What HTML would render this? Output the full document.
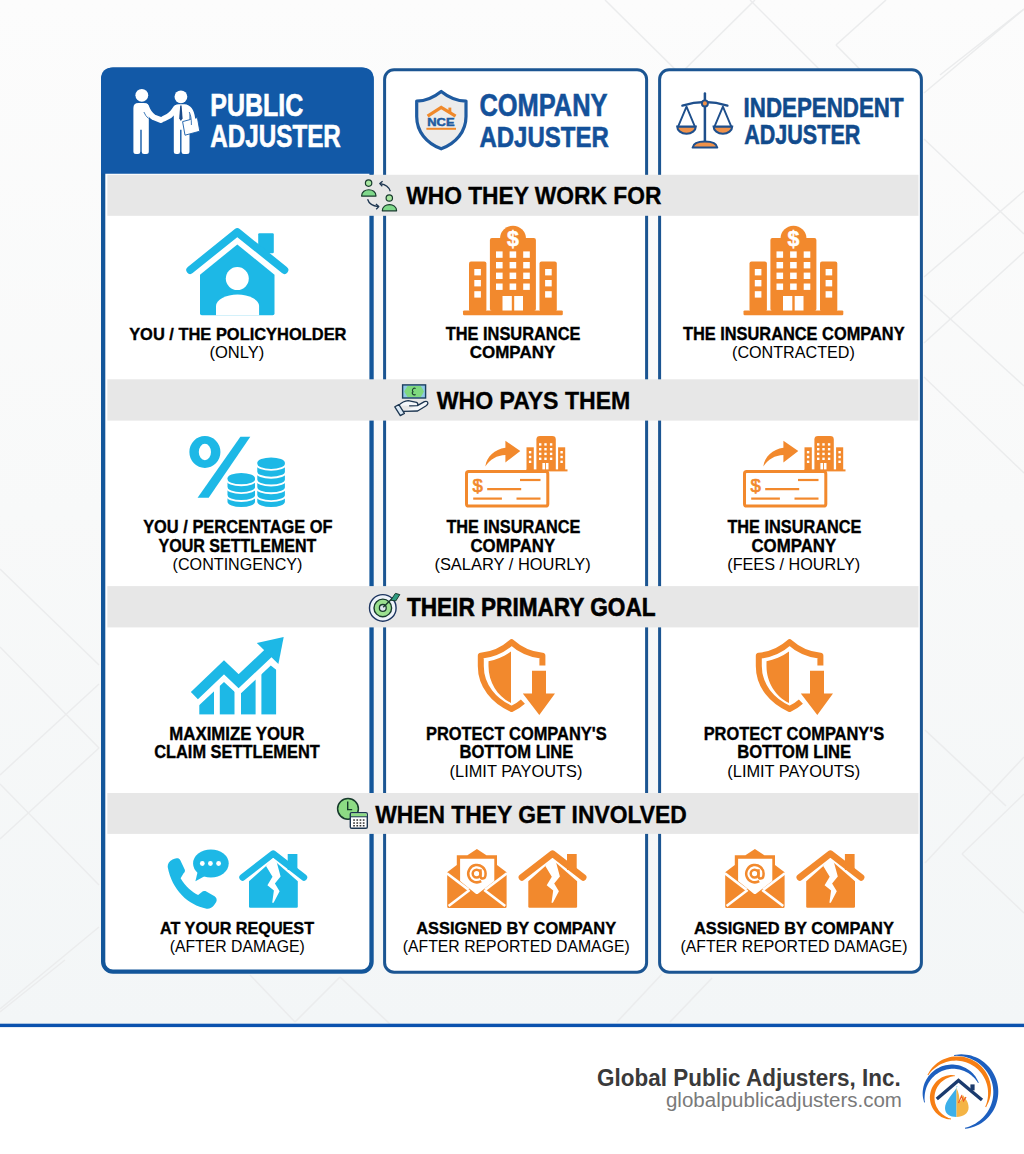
<!DOCTYPE html>
<html><head><meta charset="utf-8"><style>
html,body{margin:0;padding:0;}
body{width:1024px;height:1154px;overflow:hidden;position:relative;background:#ffffff;font-family:"Liberation Sans",sans-serif;}
svg{position:absolute;left:0;top:0;display:block}
text{font-family:"Liberation Sans",sans-serif;}
</style></head><body>
<svg width="1024" height="1154" viewBox="0 0 1024 1154">
<defs><linearGradient id="bgg" x1="0" y1="0" x2="0" y2="1"><stop offset="0" stop-color="#fcfcfc"/><stop offset="0.5" stop-color="#f8f9f9"/><stop offset="1" stop-color="#f3f6f7"/></linearGradient></defs>
<rect x="0" y="0" width="1024" height="1025" fill="url(#bgg)"/>
<line x1="605" y1="0" x2="690" y2="84" stroke="#ebeced" stroke-width="1.5"/>
<line x1="670" y1="84" x2="755" y2="0" stroke="#ebeced" stroke-width="1.5"/>
<line x1="750" y1="0" x2="830" y2="80" stroke="#ebeced" stroke-width="1.5"/>
<line x1="836" y1="45" x2="886" y2="0" stroke="#ebeced" stroke-width="1.5"/>
<line x1="836" y1="45" x2="900" y2="110" stroke="#ebeced" stroke-width="1.5"/>
<line x1="940" y1="75" x2="1024" y2="9" stroke="#ebeced" stroke-width="1.5"/>
<line x1="924" y1="93" x2="1024" y2="9" stroke="#ebeced" stroke-width="1.5"/>
<line x1="924" y1="139" x2="1024" y2="234" stroke="#ebeced" stroke-width="1.5"/>
<line x1="924" y1="277" x2="1024" y2="191" stroke="#ebeced" stroke-width="1.5"/>
<line x1="924" y1="343" x2="1024" y2="252" stroke="#ebeced" stroke-width="1.5"/>
<line x1="924" y1="295" x2="1024" y2="386" stroke="#ebeced" stroke-width="1.5"/>
<line x1="924" y1="377" x2="1024" y2="473" stroke="#ebeced" stroke-width="1.5"/>
<line x1="925" y1="730" x2="1006" y2="806" stroke="#ebeced" stroke-width="1.5"/>
<line x1="925" y1="863" x2="1024" y2="757" stroke="#ebeced" stroke-width="1.5"/>
<line x1="962" y1="854" x2="1024" y2="794" stroke="#ebeced" stroke-width="1.5"/>
<line x1="962" y1="854" x2="1024" y2="913" stroke="#ebeced" stroke-width="1.5"/>
<line x1="0" y1="569" x2="99" y2="665" stroke="#ebeced" stroke-width="1.5"/>
<line x1="0" y1="647" x2="99" y2="748" stroke="#ebeced" stroke-width="1.5"/>
<line x1="0" y1="775" x2="99" y2="684" stroke="#ebeced" stroke-width="1.5"/>
<line x1="0" y1="839" x2="99" y2="748" stroke="#ebeced" stroke-width="1.5"/>
<line x1="0" y1="784" x2="99" y2="885" stroke="#ebeced" stroke-width="1.5"/>
<line x1="0" y1="1009" x2="99" y2="927" stroke="#ebeced" stroke-width="1.5"/>
<line x1="0" y1="1012" x2="65" y2="960" stroke="#ebeced" stroke-width="1.5"/>
<line x1="617" y1="1022" x2="662" y2="974" stroke="#ebeced" stroke-width="1.5"/>
<line x1="670" y1="1022" x2="712" y2="978" stroke="#ebeced" stroke-width="1.5"/>
<line x1="250" y1="975" x2="295" y2="1022" stroke="#ebeced" stroke-width="1.5"/>
<line x1="295" y1="1022" x2="340" y2="977" stroke="#ebeced" stroke-width="1.5"/>
<line x1="340" y1="977" x2="390" y2="1024" stroke="#ebeced" stroke-width="1.5"/>
<rect x="0" y="1027" width="1024" height="127" fill="#ffffff"/>
<rect x="0" y="1023.7" width="1024" height="3.4" fill="#0b52ae"/>
<rect x="103.15" y="69.75" width="268.40" height="901.90" rx="9.85" fill="#ffffff" stroke="#13569a" stroke-width="4.3"/>
<path d="M101.0,173.7 L101.0,79.6 Q101.0,67.6 113.0,67.6 L361.7,67.6 Q373.7,67.6 373.7,79.6 L373.7,173.7 Z" fill="#1259a7"/>
<rect x="384.60" y="69.70" width="262.00" height="902.50" rx="9.50" fill="#ffffff" stroke="#1b5592" stroke-width="3.0"/>
<rect x="659.60" y="69.70" width="261.80" height="902.50" rx="9.50" fill="#ffffff" stroke="#1b5592" stroke-width="3.0"/>
<rect x="107.3" y="174.8" width="811.2" height="41.00" fill="#e7e7e7"/>
<rect x="107.3" y="379.3" width="811.2" height="41.30" fill="#e7e7e7"/>
<rect x="107.3" y="586.1" width="811.2" height="41.30" fill="#e7e7e7"/>
<rect x="107.3" y="793.0" width="811.2" height="40.90" fill="#e7e7e7"/>
<circle cx="141.8" cy="95.3" r="6.4" fill="#ffffff"/>
<circle cx="180.9" cy="96.8" r="6.4" fill="#ffffff"/>
<path d="M133.4,108.1 Q133.4,103.1 138.4,103.1 L143.8,103.1 Q148.8,103.1 148.8,108.1 L148.8,151.4 Q148.8,153.9 146.3,153.9 L144.0,153.9 Q141.7,153.9 141.7,151.4 L141.7,129.7 L140.3,129.7 L140.3,151.4 Q140.3,153.9 138.0,153.9 L135.9,153.9 Q133.4,153.9 133.4,151.4 Z" fill="#ffffff"/>
<path d="M173.8,109.3 Q173.8,104.3 178.8,104.3 L184.5,104.3 Q189.5,104.3 189.5,109.3 L189.5,151.4 Q189.5,153.9 187.0,153.9 L183.8,153.9 Q181.5,153.9 181.5,151.4 L181.5,129.7 L180.1,129.7 L180.1,151.4 Q180.1,153.9 177.79999999999998,153.9 L176.3,153.9 Q173.8,153.9 173.8,151.4 Z" fill="#ffffff"/>
<path d="M146.0,106.5 Q149.0,114.5 154.0,117.4 L160.8,120.0" stroke="#ffffff" stroke-width="5.8" stroke-linecap="round" stroke-linejoin="round" fill="none"/>
<path d="M176.0,108.0 Q172.0,114.5 168.0,116.5 L163.6,118.8" stroke="#ffffff" stroke-width="5.8" stroke-linecap="round" stroke-linejoin="round" fill="none"/>
<path d="M143.9,112.0 Q145.5,116 148.5,118.5" stroke="#1259a7" stroke-width="0.8" fill="none"/>
<path d="M182.6,121.6 L197.4,117.6 L199.8,131.2 L185,135.2 Z" fill="#ffffff" stroke="#1259a7" stroke-width="0.9"/>
<path d="M187.5,107.5 Q193.5,110 193.2,126.5" stroke="#ffffff" stroke-width="4.6" stroke-linecap="round" fill="none"/>
<path d="M189.2,112 Q191.5,116 191.4,125" stroke="#1259a7" stroke-width="0.8" fill="none"/>
<path d="M180.2,105.6 L181.6,105.6 L182.6,118.5 L180.9,121 L179.2,118.5 Z" fill="#1a4a8a"/>
<path d="M441.2,91.39999999999999 C433.5,97.6 425,100.89999999999999 416.70000000000005,101.1 L416.70000000000005,116.5 C416.70000000000005,131.5 426.5,143.5 441.2,148.8 C455.9,143.5 466.0,131.5 466.0,116.5 L466.0,101.1 C457.4,100.89999999999999 448.9,97.6 441.2,91.39999999999999 Z" fill="#ececec" stroke="#1f5ba0" stroke-width="3.2" stroke-linejoin="round"/>
<path d="M427.6,116.2 L441.2,107.3 L455.6,116.2" fill="none" stroke="#f0892a" stroke-width="3.2" stroke-linejoin="miter"/>
<rect x="448.4" y="107.6" width="2.9" height="5.5" fill="#f0892a"/>
<rect x="426.4" y="127.8" width="29.6" height="2.0" fill="#f0892a"/>
<text x="427.3" y="125.6" font-size="11.4" font-weight="bold" fill="#1f5ba0" stroke="#1f5ba0" stroke-width="0.5" textLength="27.2" lengthAdjust="spacingAndGlyphs">NCE</text>
<line x1="704.9" y1="93.6" x2="704.9" y2="142" stroke="#1e4f8c" stroke-width="2.5" stroke-linecap="round"/>
<path d="M682.4,105.6 Q704.9,98.5 727.4,105.6" fill="none" stroke="#1e4f8c" stroke-width="2.4" stroke-linecap="round"/>
<path d="M678.1,126.7 L686.5,106.6 L694.9,126.7" fill="none" stroke="#1e4f8c" stroke-width="1.9" stroke-linejoin="round"/>
<path d="M677.2,126.6 L695.8,126.6 A9.3,7.2 0 0 1 677.2,126.6 Z" fill="#f0924a" stroke="#1e4f8c" stroke-width="2.1"/>
<path d="M714.5,126.7 L722.9,106.6 L731.3,126.7" fill="none" stroke="#1e4f8c" stroke-width="1.9" stroke-linejoin="round"/>
<path d="M713.6,126.6 L732.1999999999999,126.6 A9.3,7.2 0 0 1 713.6,126.6 Z" fill="#f0924a" stroke="#1e4f8c" stroke-width="2.1"/>
<circle cx="704.9" cy="103.4" r="3.0" fill="#f0924a" stroke="#1e4f8c" stroke-width="1.9"/>
<path d="M692.6,147.6 L717.3,147.6 Q716.3,141.6 704.9,141.6 Q693.6,141.6 692.6,147.6 Z" fill="#f0924a" stroke="#1e4f8c" stroke-width="2.0" stroke-linejoin="round"/>
<circle cx="368.6" cy="183.1" r="3.2" fill="#a8e6a0" stroke="#173a2c" stroke-width="1.2"/>
<path d="M361.6,196.1 L376.0,196.1 C376.0,187.6 361.6,187.6 361.6,196.1 Z" fill="#7fd88a" stroke="#173a2c" stroke-width="1.2" stroke-linejoin="round"/>
<circle cx="389.3" cy="198.0" r="3.2" fill="#a8e6a0" stroke="#173a2c" stroke-width="1.2"/>
<path d="M382.3,210.8 L396.6,210.8 C396.6,202.5 382.3,202.5 382.3,210.8 Z" fill="#7fd88a" stroke="#173a2c" stroke-width="1.2" stroke-linejoin="round"/>
<path d="M390.3,191.2 Q388.5,185 380.3,183.6" fill="none" stroke="#1c3550" stroke-width="1.3"/>
<path d="M382.6,181.3 L379.8,183.6 L382.3,186.3" fill="none" stroke="#1c3550" stroke-width="1.3" stroke-linejoin="round"/>
<path d="M367.6,199.3 Q369.4,205.6 378.4,206.6" fill="none" stroke="#1c3550" stroke-width="1.3"/>
<path d="M375.9,204.1 L378.8,206.6 L376.2,209.2" fill="none" stroke="#1c3550" stroke-width="1.3" stroke-linejoin="round"/>
<rect x="402.6" y="384.9" width="23.0" height="13.1" fill="#8fc8e6" stroke="#1b3f5e" stroke-width="1.4"/>
<path d="M404.2,391.4 L407.5,386.0 L420.8,386.0 L424.0,391.4 L420.8,396.9 L407.5,396.9 Z" fill="#7fd97f"/>
<path d="M415.6,388.4 Q413.4,387.4 412.6,389.6 Q412,391.4 413.4,391.6 Q411.8,392 412.4,393.8 Q413.4,395.6 415.6,394.4" fill="none" stroke="#1b4030" stroke-width="1.1"/>
<path d="M398.6,405.4 Q403,401.2 408.2,400.7 L416.5,402.4 Q418.6,403.5 417.4,405.6 L409.6,405.8 M417.4,405.6 L424.4,401.6 Q427.6,400.6 427.9,403.2 Q427.8,404.6 425.8,406 L417.6,411 L403.5,411.4" fill="#f4f7fa" stroke="#1c3550" stroke-width="1.3" stroke-linejoin="round" stroke-linecap="round"/>
<path d="M394.8,406.8 L398.9,404.6 L404.4,413.4 L400.3,415.6 Z" fill="#dbe9f5" stroke="#1c3550" stroke-width="1.3" stroke-linejoin="round"/>
<circle cx="382.8" cy="607.9" r="13.3" fill="#eef3fa" stroke="#1d3560" stroke-width="1.4"/>
<circle cx="382.8" cy="607.9" r="8.8" fill="#9be08f" stroke="#173a2c" stroke-width="1.4"/>
<circle cx="382.8" cy="607.9" r="3.4" fill="#dde6ee" stroke="#173a2c" stroke-width="1.3"/>
<line x1="383.2" y1="607.3" x2="393.2" y2="597.6" stroke="#173a2c" stroke-width="1.4"/>
<path d="M390.8,600.2 L395.4,593.4 L399.8,594.6 L395.8,600.9 Z" fill="#2e9c80" stroke="#173a2c" stroke-width="1.0" stroke-linejoin="round"/>
<circle cx="348.0" cy="808.8" r="10.4" fill="#8ddb84" stroke="#173a2c" stroke-width="1.5"/>
<path d="M347.7,801.6 L347.7,809.6 L352.2,809.6" fill="none" stroke="#173a2c" stroke-width="1.4"/>
<rect x="350.3" y="812.7" width="17.0" height="15.6" rx="1.4" fill="#ffffff" stroke="#1c3550" stroke-width="1.4"/>
<rect x="351.0" y="813.4" width="15.6" height="3.4" fill="#8ddb84"/>
<line x1="350.3" y1="816.8" x2="367.3" y2="816.8" stroke="#1c3550" stroke-width="1.0"/>
<rect x="353.2" y="819.3" width="1.7" height="1.5" fill="#333"/>
<rect x="356.4" y="819.3" width="1.7" height="1.5" fill="#333"/>
<rect x="359.6" y="819.3" width="1.7" height="1.5" fill="#333"/>
<rect x="362.8" y="819.3" width="1.7" height="1.5" fill="#333"/>
<rect x="353.2" y="822.3" width="1.7" height="1.5" fill="#333"/>
<rect x="356.4" y="822.3" width="1.7" height="1.5" fill="#333"/>
<rect x="359.6" y="822.3" width="1.7" height="1.5" fill="#333"/>
<rect x="362.8" y="822.3" width="1.7" height="1.5" fill="#333"/>
<rect x="353.2" y="825.0" width="1.7" height="1.5" fill="#333"/>
<rect x="356.4" y="825.0" width="1.7" height="1.5" fill="#333"/>
<rect x="359.6" y="825.0" width="1.7" height="1.5" fill="#333"/>
<rect x="362.8" y="825.0" width="1.7" height="1.5" fill="#333"/>
<rect x="258.2" y="233.3" width="15.6" height="20" rx="1.2" fill="#1db8e6"/>
<path d="M190.2,270.0 L237.3,232.1 L284.4,270.0" fill="none" stroke="#1db8e6" stroke-width="7.8" stroke-linecap="round" stroke-linejoin="round"/>
<path d="M237.3,244.4 L274.5,274.8 L274.5,313.4 Q274.5,315.2 272.7,315.2 L201.8,315.2 Q200.0,315.2 200.0,313.4 L200.0,274.8 Z" fill="#1db8e6"/>
<circle cx="237.3" cy="278.6" r="11.5" fill="#ffffff"/>
<path d="M216.0,315.3 L216.0,306 A21.55,11.4 0 0 1 259.1,306 L259.1,315.3 Z" fill="#ffffff"/>
<g transform="translate(0,0)">
<rect x="463.0" y="310.4" width="99.8" height="4.9" rx="1.2" fill="#f2892d"/>
<rect x="469.0" y="261.4" width="17.4" height="50" rx="2" fill="#f2892d"/>
<rect x="539.5" y="261.4" width="17.3" height="50" rx="2" fill="#f2892d"/>
<circle cx="513.0" cy="238.7" r="13.0" fill="#f2892d"/>
<rect x="489.9" y="237.9" width="46.0" height="73" rx="2" fill="#f2892d"/>
<rect x="496.0" y="251.4" width="6.6" height="6.4" fill="#ffffff"/>
<rect x="509.6" y="251.4" width="6.6" height="6.4" fill="#ffffff"/>
<rect x="523.2" y="251.4" width="6.6" height="6.4" fill="#ffffff"/>
<rect x="496.0" y="262.0" width="6.6" height="6.4" fill="#ffffff"/>
<rect x="509.6" y="262.0" width="6.6" height="6.4" fill="#ffffff"/>
<rect x="523.2" y="262.0" width="6.6" height="6.4" fill="#ffffff"/>
<rect x="496.0" y="272.6" width="6.6" height="6.4" fill="#ffffff"/>
<rect x="509.6" y="272.6" width="6.6" height="6.4" fill="#ffffff"/>
<rect x="523.2" y="272.6" width="6.6" height="6.4" fill="#ffffff"/>
<rect x="496.0" y="283.5" width="6.6" height="6.4" fill="#ffffff"/>
<rect x="509.6" y="283.5" width="6.6" height="6.4" fill="#ffffff"/>
<rect x="523.2" y="283.5" width="6.6" height="6.4" fill="#ffffff"/>
<rect x="474.3" y="269.0" width="6.6" height="6.4" fill="#ffffff"/>
<rect x="545.1" y="269.0" width="6.6" height="6.4" fill="#ffffff"/>
<rect x="474.3" y="280.0" width="6.6" height="6.4" fill="#ffffff"/>
<rect x="545.1" y="280.0" width="6.6" height="6.4" fill="#ffffff"/>
<rect x="474.3" y="291.2" width="6.6" height="6.4" fill="#ffffff"/>
<rect x="545.1" y="291.2" width="6.6" height="6.4" fill="#ffffff"/>
<rect x="502.5" y="296.0" width="9.3" height="14.5" fill="#ffffff"/>
<rect x="514.2" y="296.0" width="8.8" height="14.5" fill="#ffffff"/>
<text x="513.0" y="245.6" font-size="21.3" font-weight="bold" fill="#ffffff" stroke="#ffffff" stroke-width="0.5" text-anchor="middle">$</text>
</g>
<g transform="translate(280.5,0)">
<rect x="463.0" y="310.4" width="99.8" height="4.9" rx="1.2" fill="#f2892d"/>
<rect x="469.0" y="261.4" width="17.4" height="50" rx="2" fill="#f2892d"/>
<rect x="539.5" y="261.4" width="17.3" height="50" rx="2" fill="#f2892d"/>
<circle cx="513.0" cy="238.7" r="13.0" fill="#f2892d"/>
<rect x="489.9" y="237.9" width="46.0" height="73" rx="2" fill="#f2892d"/>
<rect x="496.0" y="251.4" width="6.6" height="6.4" fill="#ffffff"/>
<rect x="509.6" y="251.4" width="6.6" height="6.4" fill="#ffffff"/>
<rect x="523.2" y="251.4" width="6.6" height="6.4" fill="#ffffff"/>
<rect x="496.0" y="262.0" width="6.6" height="6.4" fill="#ffffff"/>
<rect x="509.6" y="262.0" width="6.6" height="6.4" fill="#ffffff"/>
<rect x="523.2" y="262.0" width="6.6" height="6.4" fill="#ffffff"/>
<rect x="496.0" y="272.6" width="6.6" height="6.4" fill="#ffffff"/>
<rect x="509.6" y="272.6" width="6.6" height="6.4" fill="#ffffff"/>
<rect x="523.2" y="272.6" width="6.6" height="6.4" fill="#ffffff"/>
<rect x="496.0" y="283.5" width="6.6" height="6.4" fill="#ffffff"/>
<rect x="509.6" y="283.5" width="6.6" height="6.4" fill="#ffffff"/>
<rect x="523.2" y="283.5" width="6.6" height="6.4" fill="#ffffff"/>
<rect x="474.3" y="269.0" width="6.6" height="6.4" fill="#ffffff"/>
<rect x="545.1" y="269.0" width="6.6" height="6.4" fill="#ffffff"/>
<rect x="474.3" y="280.0" width="6.6" height="6.4" fill="#ffffff"/>
<rect x="545.1" y="280.0" width="6.6" height="6.4" fill="#ffffff"/>
<rect x="474.3" y="291.2" width="6.6" height="6.4" fill="#ffffff"/>
<rect x="545.1" y="291.2" width="6.6" height="6.4" fill="#ffffff"/>
<rect x="502.5" y="296.0" width="9.3" height="14.5" fill="#ffffff"/>
<rect x="514.2" y="296.0" width="8.8" height="14.5" fill="#ffffff"/>
<text x="513.0" y="245.6" font-size="21.3" font-weight="bold" fill="#ffffff" stroke="#ffffff" stroke-width="0.5" text-anchor="middle">$</text>
</g>
<path fill-rule="evenodd" d="M204.9,436.1 A15.5,15.9 0 1 1 204.9,467.9 A15.5,15.9 0 1 1 204.9,436.1 Z M204.9,443.8 A6.1,8.2 0 1 0 204.9,460.2 A6.1,8.2 0 1 0 204.9,443.8 Z" fill="#1db8e6"/>
<path d="M240.4,436.7 L250.3,436.7 L208.7,497.7 L197.6,497.7 Z" fill="#1db8e6"/>
<path d="M227.5,478.2 L227.5,501.8 A13.75,5.2 0 0 0 255.0,501.8 L255.0,478.2 A13.75,5.2 0 0 0 227.5,478.2 Z" fill="#1db8e6"/>
<path d="M226.5,479.5 A14.75,5.8 0 0 0 256.0,479.5" fill="none" stroke="#ffffff" stroke-width="1.9"/>
<path d="M226.5,487.3666666666667 A14.75,5.8 0 0 0 256.0,487.3666666666667" fill="none" stroke="#ffffff" stroke-width="1.9"/>
<path d="M226.5,495.23333333333335 A14.75,5.8 0 0 0 256.0,495.23333333333335" fill="none" stroke="#ffffff" stroke-width="1.9"/>
<path d="M257.3,462.8 L257.3,501.8 A13.799999999999983,5.2 0 0 0 284.9,501.8 L284.9,462.8 A13.799999999999983,5.2 0 0 0 257.3,462.8 Z" fill="#1db8e6"/>
<path d="M256.3,464.1 A14.799999999999983,5.8 0 0 0 285.9,464.1" fill="none" stroke="#ffffff" stroke-width="1.9"/>
<path d="M256.3,471.90000000000003 A14.799999999999983,5.8 0 0 0 285.9,471.90000000000003" fill="none" stroke="#ffffff" stroke-width="1.9"/>
<path d="M256.3,479.70000000000005 A14.799999999999983,5.8 0 0 0 285.9,479.70000000000005" fill="none" stroke="#ffffff" stroke-width="1.9"/>
<path d="M256.3,487.5 A14.799999999999983,5.8 0 0 0 285.9,487.5" fill="none" stroke="#ffffff" stroke-width="1.9"/>
<path d="M256.3,495.3 A14.799999999999983,5.8 0 0 0 285.9,495.3" fill="none" stroke="#ffffff" stroke-width="1.9"/>
<g transform="translate(0,0)">
<rect x="466.5" y="471.6" width="81.3" height="34.5" rx="2.2" fill="#ffffff" stroke="#f2892d" stroke-width="3.0"/>
<text x="477.6" y="491.6" font-size="18.5" font-weight="normal" fill="#f2892d" stroke="#f2892d" stroke-width="0.7" text-anchor="middle">$</text>
<line x1="520.0" y1="480.0" x2="540.5" y2="480.0" stroke="#f2892d" stroke-width="2.2"/>
<line x1="487.2" y1="489.2" x2="521.2" y2="489.2" stroke="#f2892d" stroke-width="2.2"/>
<line x1="473.2" y1="498.6" x2="501.9" y2="498.6" stroke="#f2892d" stroke-width="2.2"/>
<line x1="516.5" y1="498.6" x2="540.5" y2="498.6" stroke="#f2892d" stroke-width="2.2"/>
<path d="M485.3,466.4 C486.8,456.5 494.5,449.3 505.4,447.7 L505.4,440.8 L520.3,450.9 L505.4,462.4 L505.4,455.0 C497,455.3 490,459.3 485.3,466.4 Z" fill="#f2892d"/>
<rect x="526.5" y="447.3" width="7.3" height="23.4" fill="#f2892d"/>
<path d="M536.4,470.7 L536.4,439.5 Q536.4,436.1 540,436.1 L552.2,436.1 Q555.8,436.1 555.8,439.5 L555.8,470.7 Z" fill="#f2892d"/>
<rect x="558.1" y="447.3" width="7.1" height="23.4" fill="#f2892d"/>
<rect x="526.5" y="469.4" width="41.0" height="2.0" fill="#f2892d"/>
<rect x="539.0" y="443.2" width="2.4" height="2.4" fill="#ffffff"/>
<rect x="544.3" y="443.2" width="2.4" height="2.4" fill="#ffffff"/>
<rect x="549.9" y="443.2" width="2.4" height="2.4" fill="#ffffff"/>
<rect x="539.0" y="448.0" width="2.4" height="2.4" fill="#ffffff"/>
<rect x="544.3" y="448.0" width="2.4" height="2.4" fill="#ffffff"/>
<rect x="549.9" y="448.0" width="2.4" height="2.4" fill="#ffffff"/>
<rect x="539.0" y="452.7" width="2.4" height="2.4" fill="#ffffff"/>
<rect x="544.3" y="452.7" width="2.4" height="2.4" fill="#ffffff"/>
<rect x="549.9" y="452.7" width="2.4" height="2.4" fill="#ffffff"/>
<rect x="539.0" y="457.6" width="2.4" height="2.4" fill="#ffffff"/>
<rect x="544.3" y="457.6" width="2.4" height="2.4" fill="#ffffff"/>
<rect x="549.9" y="457.6" width="2.4" height="2.4" fill="#ffffff"/>
<rect x="528.9" y="451.0" width="2.4" height="2.4" fill="#ffffff"/>
<rect x="560.4" y="451.0" width="2.4" height="2.4" fill="#ffffff"/>
<rect x="528.9" y="455.8" width="2.4" height="2.4" fill="#ffffff"/>
<rect x="560.4" y="455.8" width="2.4" height="2.4" fill="#ffffff"/>
<rect x="528.9" y="460.6" width="2.4" height="2.4" fill="#ffffff"/>
<rect x="560.4" y="460.6" width="2.4" height="2.4" fill="#ffffff"/>
<rect x="542.4" y="463.0" width="2.6" height="6.4" fill="#ffffff"/>
<rect x="545.9" y="463.0" width="2.6" height="6.4" fill="#ffffff"/>
</g>
<g transform="translate(278,0)">
<rect x="466.5" y="471.6" width="81.3" height="34.5" rx="2.2" fill="#ffffff" stroke="#f2892d" stroke-width="3.0"/>
<text x="477.6" y="491.6" font-size="18.5" font-weight="normal" fill="#f2892d" stroke="#f2892d" stroke-width="0.7" text-anchor="middle">$</text>
<line x1="520.0" y1="480.0" x2="540.5" y2="480.0" stroke="#f2892d" stroke-width="2.2"/>
<line x1="487.2" y1="489.2" x2="521.2" y2="489.2" stroke="#f2892d" stroke-width="2.2"/>
<line x1="473.2" y1="498.6" x2="501.9" y2="498.6" stroke="#f2892d" stroke-width="2.2"/>
<line x1="516.5" y1="498.6" x2="540.5" y2="498.6" stroke="#f2892d" stroke-width="2.2"/>
<path d="M485.3,466.4 C486.8,456.5 494.5,449.3 505.4,447.7 L505.4,440.8 L520.3,450.9 L505.4,462.4 L505.4,455.0 C497,455.3 490,459.3 485.3,466.4 Z" fill="#f2892d"/>
<rect x="526.5" y="447.3" width="7.3" height="23.4" fill="#f2892d"/>
<path d="M536.4,470.7 L536.4,439.5 Q536.4,436.1 540,436.1 L552.2,436.1 Q555.8,436.1 555.8,439.5 L555.8,470.7 Z" fill="#f2892d"/>
<rect x="558.1" y="447.3" width="7.1" height="23.4" fill="#f2892d"/>
<rect x="526.5" y="469.4" width="41.0" height="2.0" fill="#f2892d"/>
<rect x="539.0" y="443.2" width="2.4" height="2.4" fill="#ffffff"/>
<rect x="544.3" y="443.2" width="2.4" height="2.4" fill="#ffffff"/>
<rect x="549.9" y="443.2" width="2.4" height="2.4" fill="#ffffff"/>
<rect x="539.0" y="448.0" width="2.4" height="2.4" fill="#ffffff"/>
<rect x="544.3" y="448.0" width="2.4" height="2.4" fill="#ffffff"/>
<rect x="549.9" y="448.0" width="2.4" height="2.4" fill="#ffffff"/>
<rect x="539.0" y="452.7" width="2.4" height="2.4" fill="#ffffff"/>
<rect x="544.3" y="452.7" width="2.4" height="2.4" fill="#ffffff"/>
<rect x="549.9" y="452.7" width="2.4" height="2.4" fill="#ffffff"/>
<rect x="539.0" y="457.6" width="2.4" height="2.4" fill="#ffffff"/>
<rect x="544.3" y="457.6" width="2.4" height="2.4" fill="#ffffff"/>
<rect x="549.9" y="457.6" width="2.4" height="2.4" fill="#ffffff"/>
<rect x="528.9" y="451.0" width="2.4" height="2.4" fill="#ffffff"/>
<rect x="560.4" y="451.0" width="2.4" height="2.4" fill="#ffffff"/>
<rect x="528.9" y="455.8" width="2.4" height="2.4" fill="#ffffff"/>
<rect x="560.4" y="455.8" width="2.4" height="2.4" fill="#ffffff"/>
<rect x="528.9" y="460.6" width="2.4" height="2.4" fill="#ffffff"/>
<rect x="560.4" y="460.6" width="2.4" height="2.4" fill="#ffffff"/>
<rect x="542.4" y="463.0" width="2.6" height="6.4" fill="#ffffff"/>
<rect x="545.9" y="463.0" width="2.6" height="6.4" fill="#ffffff"/>
</g>
<defs><clipPath id="barclip"><path d="M190,713.7 L224,682.0 L238.6,695.5 L270.8,665.6 L278.4,671.5 L290,683 L290,720 L190,720 Z"/></clipPath></defs>
<g clip-path="url(#barclip)" fill="#1db8e6">
<rect x="199.3" y="640" width="14.70" height="74.40"/>
<rect x="219.8" y="640" width="14.70" height="74.40"/>
<rect x="241.0" y="640" width="14.60" height="74.40"/>
<rect x="261.4" y="640" width="14.70" height="74.40"/>
</g>
<path d="M194.4,695.6 L224,667.2 L238.6,681.2 L273.0,648.7" fill="none" stroke="#1db8e6" stroke-width="10.2" stroke-linejoin="miter" stroke-miterlimit="10"/>
<path d="M256.8,643.1 L283.7,637.0 L278.4,664.0 Z" fill="#1db8e6"/>
<g transform="translate(0,0)">
<path d="M542.4,665.4 L542.4,655.8 C531,654.6 520,649.8 511.6,642.2 C503.2,649.8 492.2,654.6 480.8,655.8 L480.8,666 C480.8,686 494,701 511.6,708.9 C515.6,707.2 519.6,704.6 522.9,701.6" fill="none" stroke="#f2892d" stroke-width="6.0" stroke-linejoin="round"/>
<path d="M488.5,661.3 C496,660 504,656.6 511.0,651.6 L511.0,703.0 C498,696.6 488.5,683 488.5,666 Z" fill="#f2892d"/>
<path d="M532.0,670.8 L546.0,670.8 L546.0,693.4 L555.0,693.4 L539.3,714.9 L522.8,693.4 L532.0,693.4 Z" fill="#f2892d"/>
</g>
<g transform="translate(278,0)">
<path d="M542.4,665.4 L542.4,655.8 C531,654.6 520,649.8 511.6,642.2 C503.2,649.8 492.2,654.6 480.8,655.8 L480.8,666 C480.8,686 494,701 511.6,708.9 C515.6,707.2 519.6,704.6 522.9,701.6" fill="none" stroke="#f2892d" stroke-width="6.0" stroke-linejoin="round"/>
<path d="M488.5,661.3 C496,660 504,656.6 511.0,651.6 L511.0,703.0 C498,696.6 488.5,683 488.5,666 Z" fill="#f2892d"/>
<path d="M532.0,670.8 L546.0,670.8 L546.0,693.4 L555.0,693.4 L539.3,714.9 L522.8,693.4 L532.0,693.4 Z" fill="#f2892d"/>
</g>
<path d="M176.5,858.3 C178,858 179.5,858.6 180.2,860 L184.7,869.6 C185.3,871 184.9,872.4 183.6,873.3 L180.6,878.2 C183,882.5 186,886 189,888.8 C191.8,891.4 194.8,893.5 198.1,895.0 L201.6,892.2 C202.8,891 204,890.6 205.4,891.1 L214.6,896.3 C216.6,897.6 217.2,900 216.2,902 L214,905.3 C212,908 209.5,909 206.6,908.7 C188,905 172,890 167.7,867 C167.6,864 169,861.6 172.5,859.6 C173.8,858.8 175.2,858.4 176.5,858.3 Z" fill="#1db8e6"/>
<ellipse cx="210.9" cy="863.5" rx="17.8" ry="14.0" fill="#1db8e6"/>
<path d="M197.6,872.0 L195.4,881.2 L204.5,876.2 Z" fill="#1db8e6"/>
<circle cx="202.3" cy="863.5" r="2.4" fill="#ffffff"/>
<circle cx="210.4" cy="863.5" r="2.4" fill="#ffffff"/>
<circle cx="218.6" cy="863.5" r="2.4" fill="#ffffff"/>
<g transform="translate(0,0)">
<rect x="287.7" y="854.0" width="9.7" height="16" fill="#1db8e6"/>
<path d="M242.6,877.4 L273.2,853.6 L303.9,877.4" fill="none" stroke="#1db8e6" stroke-width="6.6" stroke-linecap="round" stroke-linejoin="round"/>
<path d="M273.2,859.8 L297.8,881.2 L297.8,906.6 Q297.8,907.8 296.6,907.8 L250.2,907.8 Q249.0,907.8 249.0,906.6 L249.0,881.2 Z" fill="#1db8e6"/>
<path d="M266.0,866.0 L272.5,876.7 L267.4,885.2 L273.9,890.6 L272.2,902.8 L273.6,902.8 L279.6,891.2 L274.9,883.4 L280.6,876.5 L276.8,862.4 L273.2,858.0 Z" fill="#ffffff"/>
</g>
<g transform="translate(0,0)">
<path d="M447.2,872.2 L456.8,865.0 L456.8,855.3 L467.4,855.3 L476.9,849.1 L486.4,855.3 L497.0,855.3 L497.0,865.0 L506.6,872.2 L506.6,906.4 Q506.6,907.9 505.1,907.9 L448.7,907.9 Q447.2,907.9 447.2,906.4 Z" fill="#f2892d"/>
<path d="M460.1,858.7 L494.3,858.7 L494.3,881.0 L478.3,893.4 Q476.9,894.5 475.5,893.4 L460.1,881.0 Z" fill="#ffffff"/>
<line x1="446.8" y1="873.2" x2="468.4" y2="889.6" stroke="#ffffff" stroke-width="2.6"/>
<line x1="507.0" y1="873.2" x2="485.4" y2="889.6" stroke="#ffffff" stroke-width="2.6"/>
<line x1="448.6" y1="906.0" x2="469.6" y2="890.0" stroke="#ffffff" stroke-width="2.6"/>
<line x1="505.2" y1="906.0" x2="484.2" y2="890.0" stroke="#ffffff" stroke-width="2.6"/>
<circle cx="476.6" cy="873.6" r="3.9" fill="none" stroke="#f2892d" stroke-width="2.5"/>
<path d="M480.5,869.3 L480.5,876.2 Q480.5,878.6 482.9,878.6 Q485.6,878.6 485.6,873.6 A8.7,8.7 0 1 0 481.2,881.2" fill="none" stroke="#f2892d" stroke-width="2.5"/>
</g>
<g transform="translate(279.3,0)">
<rect x="287.7" y="854.0" width="9.7" height="16" fill="#f2892d"/>
<path d="M242.6,877.4 L273.2,853.6 L303.9,877.4" fill="none" stroke="#f2892d" stroke-width="6.6" stroke-linecap="round" stroke-linejoin="round"/>
<path d="M273.2,859.8 L297.8,881.2 L297.8,906.6 Q297.8,907.8 296.6,907.8 L250.2,907.8 Q249.0,907.8 249.0,906.6 L249.0,881.2 Z" fill="#f2892d"/>
<path d="M266.0,866.0 L272.5,876.7 L267.4,885.2 L273.9,890.6 L272.2,902.8 L273.6,902.8 L279.6,891.2 L274.9,883.4 L280.6,876.5 L276.8,862.4 L273.2,858.0 Z" fill="#ffffff"/>
</g>
<g transform="translate(278,0)">
<path d="M447.2,872.2 L456.8,865.0 L456.8,855.3 L467.4,855.3 L476.9,849.1 L486.4,855.3 L497.0,855.3 L497.0,865.0 L506.6,872.2 L506.6,906.4 Q506.6,907.9 505.1,907.9 L448.7,907.9 Q447.2,907.9 447.2,906.4 Z" fill="#f2892d"/>
<path d="M460.1,858.7 L494.3,858.7 L494.3,881.0 L478.3,893.4 Q476.9,894.5 475.5,893.4 L460.1,881.0 Z" fill="#ffffff"/>
<line x1="446.8" y1="873.2" x2="468.4" y2="889.6" stroke="#ffffff" stroke-width="2.6"/>
<line x1="507.0" y1="873.2" x2="485.4" y2="889.6" stroke="#ffffff" stroke-width="2.6"/>
<line x1="448.6" y1="906.0" x2="469.6" y2="890.0" stroke="#ffffff" stroke-width="2.6"/>
<line x1="505.2" y1="906.0" x2="484.2" y2="890.0" stroke="#ffffff" stroke-width="2.6"/>
<circle cx="476.6" cy="873.6" r="3.9" fill="none" stroke="#f2892d" stroke-width="2.5"/>
<path d="M480.5,869.3 L480.5,876.2 Q480.5,878.6 482.9,878.6 Q485.6,878.6 485.6,873.6 A8.7,8.7 0 1 0 481.2,881.2" fill="none" stroke="#f2892d" stroke-width="2.5"/>
</g>
<g transform="translate(557.2,0)">
<rect x="287.7" y="854.0" width="9.7" height="16" fill="#f2892d"/>
<path d="M242.6,877.4 L273.2,853.6 L303.9,877.4" fill="none" stroke="#f2892d" stroke-width="6.6" stroke-linecap="round" stroke-linejoin="round"/>
<path d="M273.2,859.8 L297.8,881.2 L297.8,906.6 Q297.8,907.8 296.6,907.8 L250.2,907.8 Q249.0,907.8 249.0,906.6 L249.0,881.2 Z" fill="#f2892d"/>
<path d="M266.0,866.0 L272.5,876.7 L267.4,885.2 L273.9,890.6 L272.2,902.8 L273.6,902.8 L279.6,891.2 L274.9,883.4 L280.6,876.5 L276.8,862.4 L273.2,858.0 Z" fill="#ffffff"/>
</g>
<path d="M954.06,1054.98 L956.47,1054.74 L958.89,1054.46 L961.33,1054.33 L963.78,1054.39 L966.24,1054.63 L968.68,1055.04 L971.09,1055.62 L973.47,1056.38 L975.79,1057.29 L978.05,1058.36 L980.24,1059.59 L982.34,1060.97 L984.35,1062.49 L986.26,1064.14 L988.05,1065.92 L989.72,1067.82 L991.26,1069.84 L992.67,1071.95 L993.93,1074.16 L995.03,1076.44 L995.99,1078.80 L996.78,1081.22 L997.41,1083.69 L997.87,1086.19 L998.16,1088.72 L998.28,1091.26 L998.23,1093.81 L998.01,1096.34 L997.62,1098.85 L997.06,1101.33 L996.33,1103.76 L995.45,1106.14 L994.41,1108.44 L993.21,1110.67 L991.87,1112.81 L990.39,1114.85 L988.79,1116.78 L987.05,1118.60 L985.20,1120.28 L983.25,1121.84 L981.20,1123.25 L979.06,1124.51 L976.85,1125.62 L974.57,1126.57 L972.24,1127.34 L969.87,1127.93 L967.47,1128.38 L965.10,1128.85 L964.92,1127.76 L967.22,1127.31 L969.44,1126.52 L971.58,1125.58 L973.66,1124.54 L975.66,1123.39 L977.59,1122.12 L979.42,1120.75 L981.17,1119.28 L982.82,1117.71 L984.36,1116.04 L985.79,1114.29 L987.11,1112.46 L988.31,1110.56 L989.39,1108.59 L990.35,1106.56 L991.17,1104.48 L991.87,1102.35 L992.43,1100.19 L992.85,1098.01 L993.14,1095.80 L993.29,1093.58 L993.31,1091.36 L993.18,1089.14 L992.92,1086.93 L992.53,1084.74 L992.00,1082.59 L991.33,1080.46 L990.54,1078.38 L989.62,1076.36 L988.57,1074.39 L987.40,1072.49 L986.12,1070.66 L984.72,1068.91 L983.21,1067.25 L981.61,1065.68 L979.90,1064.21 L978.10,1062.85 L976.22,1061.59 L974.26,1060.45 L972.22,1059.43 L970.12,1058.53 L967.97,1057.76 L965.76,1057.11 L963.50,1056.60 L961.21,1056.21 L958.89,1055.94 L956.54,1055.83 L954.21,1056.07 Z" fill="#1d5fbf"/>
<path d="M927.48,1074.75 L928.63,1072.91 L929.75,1071.04 L930.99,1069.23 L932.37,1067.51 L933.88,1065.90 L935.51,1064.39 L937.24,1062.99 L939.07,1061.71 L940.99,1060.55 L942.99,1059.53 L945.05,1058.65 L947.18,1057.90 L949.36,1057.30 L951.58,1056.85 L953.83,1056.54 L956.09,1056.39 L958.37,1056.39 L960.64,1056.55 L962.89,1056.86 L965.13,1057.32 L967.33,1057.93 L969.48,1058.69 L971.58,1059.59 L973.61,1060.63 L975.57,1061.80 L977.45,1063.10 L979.23,1064.53 L980.91,1066.07 L982.49,1067.72 L983.95,1069.47 L985.28,1071.32 L986.49,1073.24 L987.56,1075.24 L988.50,1077.31 L989.29,1079.43 L989.93,1081.60 L990.43,1083.80 L990.77,1086.02 L990.96,1088.26 L991.00,1090.50 L990.89,1092.73 L990.62,1094.94 L990.20,1097.11 L989.63,1099.25 L988.90,1101.33 L988.03,1103.34 L987.04,1105.28 L986.08,1107.23 L985.19,1106.76 L986.12,1104.87 L986.76,1102.86 L987.25,1100.83 L987.64,1098.78 L987.90,1096.73 L988.05,1094.68 L988.07,1092.63 L987.97,1090.58 L987.75,1088.56 L987.40,1086.56 L986.93,1084.59 L986.35,1082.66 L985.65,1080.77 L984.84,1078.93 L983.91,1077.15 L982.89,1075.44 L981.75,1073.79 L980.53,1072.22 L979.20,1070.73 L977.79,1069.32 L976.30,1068.01 L974.73,1066.79 L973.09,1065.67 L971.38,1064.65 L969.62,1063.74 L967.80,1062.94 L965.93,1062.26 L964.03,1061.69 L962.09,1061.24 L960.12,1060.91 L958.14,1060.70 L956.14,1060.61 L954.14,1060.65 L952.14,1060.81 L950.15,1061.09 L948.18,1061.50 L946.23,1062.03 L944.32,1062.68 L942.44,1063.44 L940.60,1064.33 L938.82,1065.32 L937.09,1066.43 L935.42,1067.64 L933.82,1068.95 L932.29,1070.36 L930.83,1071.86 L929.47,1073.47 L928.36,1075.25 Z" fill="#f77f14"/>
<path d="M924.09,1102.58 L923.71,1100.84 L923.27,1099.09 L922.93,1097.31 L922.72,1095.50 L922.64,1093.67 L922.69,1091.84 L922.86,1090.01 L923.15,1088.18 L923.56,1086.37 L924.09,1084.59 L924.73,1082.85 L925.49,1081.14 L926.36,1079.48 L927.34,1077.88 L928.42,1076.35 L929.60,1074.88 L930.87,1073.49 L932.23,1072.18 L933.67,1070.96 L935.19,1069.84 L936.78,1068.81 L938.43,1067.89 L940.14,1067.07 L941.90,1066.37 L943.70,1065.78 L945.53,1065.31 L947.39,1064.95 L949.26,1064.71 L951.15,1064.60 L953.04,1064.61 L954.92,1064.73 L956.79,1064.98 L958.63,1065.35 L960.45,1065.83 L962.23,1066.43 L963.96,1067.14 L965.64,1067.96 L967.25,1068.88 L968.81,1069.91 L970.28,1071.03 L971.68,1072.24 L972.98,1073.53 L974.20,1074.91 L975.31,1076.36 L976.31,1077.88 L977.20,1079.46 L977.99,1081.08 L978.82,1082.66 L977.95,1083.09 L977.15,1081.56 L976.11,1080.17 L974.99,1078.86 L973.81,1077.62 L972.58,1076.44 L971.30,1075.34 L969.96,1074.32 L968.58,1073.37 L967.14,1072.51 L965.67,1071.74 L964.16,1071.05 L962.62,1070.45 L961.05,1069.95 L959.46,1069.53 L957.85,1069.21 L956.23,1068.98 L954.60,1068.84 L952.97,1068.80 L951.34,1068.85 L949.71,1069.00 L948.11,1069.24 L946.51,1069.57 L944.94,1069.99 L943.40,1070.50 L941.89,1071.10 L940.42,1071.79 L938.99,1072.56 L937.60,1073.41 L936.26,1074.34 L934.98,1075.35 L933.76,1076.43 L932.60,1077.58 L931.50,1078.80 L930.48,1080.08 L929.52,1081.42 L928.65,1082.82 L927.85,1084.27 L927.14,1085.76 L926.51,1087.30 L925.96,1088.88 L925.51,1090.50 L925.14,1092.14 L924.87,1093.81 L924.68,1095.50 L924.58,1097.21 L924.56,1098.93 L924.66,1100.66 L925.02,1102.35 Z" fill="#1d5fbf"/>
<path d="M954.78,1075.21 L953.37,1075.20 L951.94,1075.12 L950.50,1075.11 L949.06,1075.22 L947.62,1075.44 L946.20,1075.77 L944.79,1076.20 L943.41,1076.72 L942.07,1077.35 L940.77,1078.07 L939.52,1078.88 L938.32,1079.77 L937.18,1080.75 L936.10,1081.81 L935.10,1082.93 L934.18,1084.13 L933.33,1085.39 L932.57,1086.70 L931.90,1088.06 L931.33,1089.47 L930.84,1090.91 L930.46,1092.39 L930.18,1093.89 L929.99,1095.40 L929.91,1096.92 L929.93,1098.45 L930.05,1099.96 L930.28,1101.47 L930.60,1102.96 L931.02,1104.41 L931.54,1105.84 L932.16,1107.23 L932.86,1108.56 L933.65,1109.85 L934.53,1111.07 L935.48,1112.23 L936.50,1113.32 L937.60,1114.34 L938.75,1115.27 L939.97,1116.12 L941.23,1116.88 L942.54,1117.55 L943.89,1118.12 L945.27,1118.58 L946.67,1118.94 L948.09,1119.19 L949.51,1119.35 L950.90,1119.59 L951.04,1118.59 L949.71,1118.36 L948.44,1117.88 L947.23,1117.31 L946.05,1116.70 L944.91,1116.03 L943.82,1115.30 L942.78,1114.53 L941.79,1113.70 L940.86,1112.82 L939.98,1111.89 L939.16,1110.92 L938.40,1109.91 L937.71,1108.86 L937.07,1107.77 L936.51,1106.65 L936.01,1105.51 L935.58,1104.34 L935.23,1103.15 L934.94,1101.94 L934.72,1100.73 L934.58,1099.50 L934.50,1098.27 L934.50,1097.03 L934.57,1095.80 L934.72,1094.58 L934.93,1093.36 L935.22,1092.16 L935.57,1090.97 L936.00,1089.81 L936.49,1088.68 L937.05,1087.57 L937.68,1086.49 L938.36,1085.45 L939.11,1084.45 L939.92,1083.49 L940.79,1082.57 L941.72,1081.71 L942.69,1080.89 L943.72,1080.13 L944.79,1079.43 L945.91,1078.78 L947.07,1078.20 L948.27,1077.68 L949.50,1077.21 L950.77,1076.81 L952.07,1076.47 L953.40,1076.21 L954.74,1076.22 Z" fill="#f77f14"/>
<path d="M936.8,1099 L958.5,1080.4 L982,1100" fill="none" stroke="#1b3b6e" stroke-width="3.4" stroke-linejoin="miter"/>
<rect x="970.4" y="1084.4" width="4.2" height="6" fill="#1b3b6e"/>
<path d="M957.5,1086.2 C953,1094 945,1101 945,1108 C945,1114 950,1117 956.5,1117 L956.5,1086.2 Z" fill="#3cafe9"/>
<path d="M956.5,1117 C963,1117 968.6,1113.5 968.6,1107.5 C968.6,1102 965.5,1098.5 962.5,1094.5 C962.5,1099 961,1101 959,1102 C960,1097 958.5,1092 956.5,1088 Z" fill="#f4b445"/>
<path d="M958.5,1103 L961.5,1096 L963.5,1101 L966,1097" fill="none" stroke="#ef5a24" stroke-width="1.2"/>
<text x="210.34" y="116.10" font-size="31.83" font-weight="bold" fill="#ffffff" stroke="#ffffff" stroke-width="0.6" textLength="93.04" lengthAdjust="spacingAndGlyphs">PUBLIC</text>
<text x="210.22" y="146.90" font-size="31.10" font-weight="bold" fill="#ffffff" stroke="#ffffff" stroke-width="0.6" textLength="130.64" lengthAdjust="spacingAndGlyphs">ADJUSTER</text>
<text x="479.40" y="116.00" font-size="31.10" font-weight="bold" fill="#14519a" stroke="#14519a" stroke-width="0.6" textLength="128.17" lengthAdjust="spacingAndGlyphs">COMPANY</text>
<text x="479.43" y="146.50" font-size="30.38" font-weight="bold" fill="#14519a" stroke="#14519a" stroke-width="0.6" textLength="129.33" lengthAdjust="spacingAndGlyphs">ADJUSTER</text>
<text x="743.61" y="116.55" font-size="28.27" font-weight="bold" fill="#114b8c" stroke="#114b8c" stroke-width="0.6" textLength="159.93" lengthAdjust="spacingAndGlyphs">INDEPENDENT</text>
<text x="744.26" y="144.40" font-size="28.34" font-weight="bold" fill="#114b8c" stroke="#114b8c" stroke-width="0.6" textLength="116.05" lengthAdjust="spacingAndGlyphs">ADJUSTER</text>
<text x="406.20" y="203.50" font-size="24.27" font-weight="bold" fill="#000000" stroke="#000000" stroke-width="0.35" textLength="255.23" lengthAdjust="spacingAndGlyphs">WHO THEY WORK FOR</text>
<text x="436.70" y="409.00" font-size="24.27" font-weight="bold" fill="#000000" stroke="#000000" stroke-width="0.35" textLength="193.59" lengthAdjust="spacingAndGlyphs">WHO PAYS THEM</text>
<text x="406.90" y="615.70" font-size="25.58" font-weight="bold" fill="#000000" stroke="#000000" stroke-width="0.6" textLength="248.69" lengthAdjust="spacingAndGlyphs">THEIR PRIMARY GOAL</text>
<text x="375.20" y="823.20" font-size="24.56" font-weight="bold" fill="#000000" stroke="#000000" stroke-width="0.35" textLength="311.49" lengthAdjust="spacingAndGlyphs">WHEN THEY GET INVOLVED</text>
<text x="129.14" y="340.30" font-size="17.15" font-weight="bold" fill="#000000" stroke="#000000" stroke-width="0.35" textLength="217.37" lengthAdjust="spacingAndGlyphs">YOU / THE POLICYHOLDER</text>
<text x="209.42" y="358.30" font-size="15.99" font-weight="normal" fill="#000000" textLength="54.83" lengthAdjust="spacingAndGlyphs">(ONLY)</text>
<text x="445.70" y="339.80" font-size="17.44" font-weight="bold" fill="#000000" stroke="#000000" stroke-width="0.35" textLength="134.73" lengthAdjust="spacingAndGlyphs">THE INSURANCE</text>
<text x="469.77" y="358.30" font-size="17.01" font-weight="bold" fill="#000000" stroke="#000000" stroke-width="0.35" textLength="85.51" lengthAdjust="spacingAndGlyphs">COMPANY</text>
<text x="682.90" y="340.00" font-size="17.44" font-weight="bold" fill="#000000" stroke="#000000" stroke-width="0.35" textLength="221.68" lengthAdjust="spacingAndGlyphs">THE INSURANCE COMPANY</text>
<text x="732.04" y="358.30" font-size="15.99" font-weight="normal" fill="#000000" textLength="122.79" lengthAdjust="spacingAndGlyphs">(CONTRACTED)</text>
<text x="143.14" y="533.00" font-size="18.17" font-weight="bold" fill="#000000" stroke="#000000" stroke-width="0.35" textLength="189.49" lengthAdjust="spacingAndGlyphs">YOU / PERCENTAGE OF</text>
<text x="158.45" y="551.70" font-size="18.02" font-weight="bold" fill="#000000" stroke="#000000" stroke-width="0.35" textLength="157.97" lengthAdjust="spacingAndGlyphs">YOUR SETTLEMENT</text>
<text x="172.64" y="570.30" font-size="15.70" font-weight="normal" fill="#000000" textLength="129.79" lengthAdjust="spacingAndGlyphs">(CONTINGENCY)</text>
<text x="446.40" y="533.00" font-size="18.17" font-weight="bold" fill="#000000" stroke="#000000" stroke-width="0.35" textLength="134.03" lengthAdjust="spacingAndGlyphs">THE INSURANCE</text>
<text x="470.47" y="551.70" font-size="18.02" font-weight="bold" fill="#000000" stroke="#000000" stroke-width="0.35" textLength="84.71" lengthAdjust="spacingAndGlyphs">COMPANY</text>
<text x="434.43" y="570.30" font-size="15.70" font-weight="normal" fill="#000000" textLength="156.22" lengthAdjust="spacingAndGlyphs">(SALARY / HOURLY)</text>
<text x="727.40" y="533.00" font-size="18.17" font-weight="bold" fill="#000000" stroke="#000000" stroke-width="0.35" textLength="134.03" lengthAdjust="spacingAndGlyphs">THE INSURANCE</text>
<text x="751.47" y="551.70" font-size="18.02" font-weight="bold" fill="#000000" stroke="#000000" stroke-width="0.35" textLength="84.71" lengthAdjust="spacingAndGlyphs">COMPANY</text>
<text x="727.24" y="570.30" font-size="15.70" font-weight="normal" fill="#000000" textLength="133.00" lengthAdjust="spacingAndGlyphs">(FEES / HOURLY)</text>
<text x="169.35" y="740.00" font-size="17.59" font-weight="bold" fill="#000000" stroke="#000000" stroke-width="0.35" textLength="134.97" lengthAdjust="spacingAndGlyphs">MAXIMIZE YOUR</text>
<text x="154.19" y="758.40" font-size="17.73" font-weight="bold" fill="#000000" stroke="#000000" stroke-width="0.35" textLength="165.54" lengthAdjust="spacingAndGlyphs">CLAIM SETTLEMENT</text>
<text x="425.97" y="740.00" font-size="17.44" font-weight="bold" fill="#000000" stroke="#000000" stroke-width="0.35" textLength="180.66" lengthAdjust="spacingAndGlyphs">PROTECT COMPANY&#39;S</text>
<text x="459.46" y="758.40" font-size="17.73" font-weight="bold" fill="#000000" stroke="#000000" stroke-width="0.35" textLength="113.97" lengthAdjust="spacingAndGlyphs">BOTTOM LINE</text>
<text x="449.63" y="776.60" font-size="15.99" font-weight="normal" fill="#000000" textLength="132.81" lengthAdjust="spacingAndGlyphs">(LIMIT PAYOUTS)</text>
<text x="703.67" y="740.00" font-size="17.44" font-weight="bold" fill="#000000" stroke="#000000" stroke-width="0.35" textLength="180.46" lengthAdjust="spacingAndGlyphs">PROTECT COMPANY&#39;S</text>
<text x="737.16" y="758.40" font-size="17.73" font-weight="bold" fill="#000000" stroke="#000000" stroke-width="0.35" textLength="113.97" lengthAdjust="spacingAndGlyphs">BOTTOM LINE</text>
<text x="727.33" y="776.60" font-size="15.99" font-weight="normal" fill="#000000" textLength="132.81" lengthAdjust="spacingAndGlyphs">(LIMIT PAYOUTS)</text>
<text x="160.05" y="934.10" font-size="17.30" font-weight="bold" fill="#000000" stroke="#000000" stroke-width="0.35" textLength="153.98" lengthAdjust="spacingAndGlyphs">AT YOUR REQUEST</text>
<text x="169.66" y="952.20" font-size="16.28" font-weight="normal" fill="#000000" textLength="135.16" lengthAdjust="spacingAndGlyphs">(AFTER DAMAGE)</text>
<text x="416.24" y="934.10" font-size="17.30" font-weight="bold" fill="#000000" stroke="#000000" stroke-width="0.35" textLength="199.93" lengthAdjust="spacingAndGlyphs">ASSIGNED BY COMPANY</text>
<text x="402.76" y="952.20" font-size="16.28" font-weight="normal" fill="#000000" textLength="226.96" lengthAdjust="spacingAndGlyphs">(AFTER REPORTED DAMAGE)</text>
<text x="693.94" y="934.10" font-size="17.30" font-weight="bold" fill="#000000" stroke="#000000" stroke-width="0.35" textLength="199.93" lengthAdjust="spacingAndGlyphs">ASSIGNED BY COMPANY</text>
<text x="680.46" y="952.20" font-size="16.28" font-weight="normal" fill="#000000" textLength="226.96" lengthAdjust="spacingAndGlyphs">(AFTER REPORTED DAMAGE)</text>
<text x="597.10" y="1085.60" font-size="23.55" font-weight="bold" fill="#3a3a3a" textLength="303.62" lengthAdjust="spacingAndGlyphs">Global Public Adjusters, Inc.</text>
<text x="665.96" y="1106.90" font-size="19.34" font-weight="normal" fill="#7a7a7a" textLength="236.00" lengthAdjust="spacingAndGlyphs">globalpublicadjusters.com</text>
</svg>
</body></html>
